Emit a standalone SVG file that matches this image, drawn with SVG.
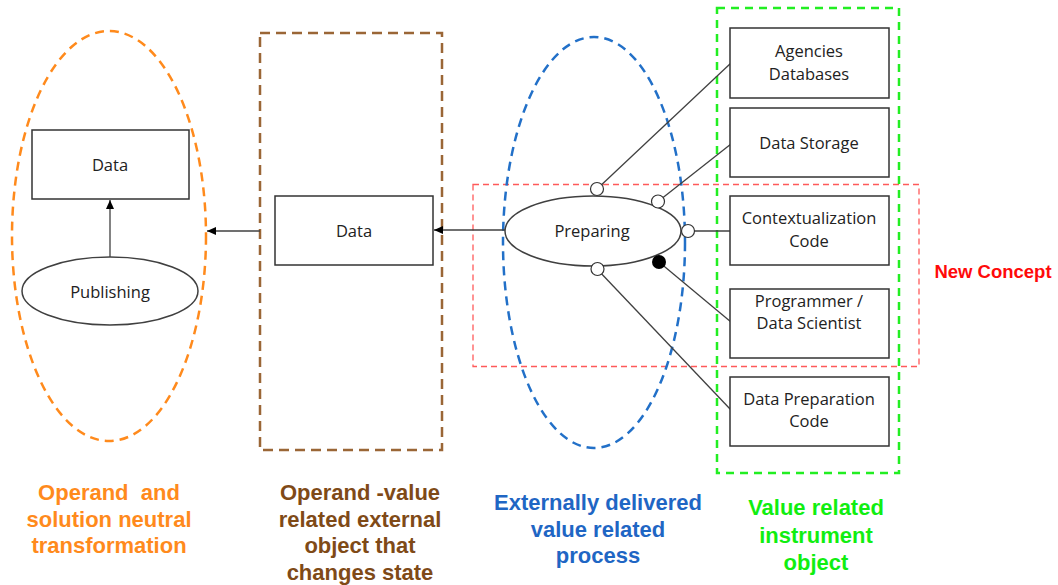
<svg xmlns="http://www.w3.org/2000/svg" width="1058" height="585" viewBox="0 0 1058 585">
  <style>
    .box { fill: #ffffff; stroke: #333333; stroke-width: 1.5; }
    .oval { fill: #ffffff; stroke: #404040; stroke-width: 1.5; }
    .lbl { font-family: "Open Sans", "Noto Sans", sans-serif; font-size: 16.5px; fill: #222222; text-anchor: middle; }
    .cap { font-family: "Liberation Sans", Arial, sans-serif; font-size: 22px; font-weight: bold; text-anchor: middle; }
    .link { stroke: #404040; stroke-width: 1.3; fill: none; }
    .port { fill: #ffffff; stroke: #333333; stroke-width: 1.2; }
  </style>
  <defs>
    <marker id="arrow" markerUnits="userSpaceOnUse" markerWidth="10" markerHeight="8" refX="9" refY="4" orient="auto">
      <path d="M0,0 L9,4 L0,8 Z" fill="#000000"/>
    </marker>
  </defs>
  <rect width="1058" height="585" fill="#ffffff"/>

  <!-- grouping regions -->
  <g id="regions" fill="none">
    <ellipse id="region-transformation" cx="109" cy="236" rx="97" ry="205" stroke="#FF8A1C" stroke-width="2.5" stroke-dasharray="9 6"/>
    <rect id="region-operand" x="260" y="33" width="182" height="417" stroke="#9A6636" stroke-width="2.5" stroke-dasharray="10 6"/>
    <rect id="region-new-concept" x="473" y="184.5" width="446" height="182" stroke="#FF5A5A" stroke-width="1.3" stroke-dasharray="6 4"/>
    <ellipse id="region-process" cx="594" cy="242.5" rx="91" ry="205.5" stroke="#2270C8" stroke-width="2.5" stroke-dasharray="9 6"/>
    <rect id="region-instrument" x="717" y="8" width="182" height="465" stroke="#22EE22" stroke-width="2.5" stroke-dasharray="8 6"/>
  </g>

  <!-- connectors -->
  <g id="connectors">
    <line class="link" x1="110" y1="257" x2="110" y2="200" marker-end="url(#arrow)"/>
    <line class="link" x1="260" y1="231" x2="207" y2="231" marker-end="url(#arrow)"/>
    <line class="link" x1="505" y1="230" x2="434" y2="230" marker-end="url(#arrow)"/>
    <line class="link" x1="597" y1="189" x2="731" y2="63"/>
    <line class="link" x1="658" y1="201.5" x2="731" y2="144"/>
    <line class="link" x1="688" y1="231" x2="731" y2="231"/>
    <line class="link" x1="659" y1="262" x2="731" y2="322"/>
    <line class="link" x1="597" y1="269" x2="731" y2="410"/>
  </g>

  <!-- nodes -->
  <g id="data-published">
    <rect class="box" x="32" y="130" width="157" height="69"/>
    <text class="lbl" x="110" y="171">Data</text>
  </g>
  <g id="publishing">
    <ellipse class="oval" cx="110" cy="291" rx="88" ry="34"/>
    <text class="lbl" x="110" y="298">Publishing</text>
  </g>
  <g id="data-state">
    <rect class="box" x="275" y="196" width="158" height="69"/>
    <text class="lbl" x="354" y="237">Data</text>
  </g>
  <g id="preparing">
    <ellipse class="oval" cx="593" cy="231" rx="88" ry="35"/>
    <text class="lbl" x="592" y="237">Preparing</text>
  </g>
  <g id="agencies-databases">
    <rect class="box" x="730" y="28" width="159" height="70"/>
    <text class="lbl" x="809" y="57">Agencies</text>
    <text class="lbl" x="809" y="80">Databases</text>
  </g>
  <g id="data-storage">
    <rect class="box" x="730" y="108" width="159" height="69"/>
    <text class="lbl" x="809" y="149">Data Storage</text>
  </g>
  <g id="contextualization-code">
    <rect class="box" x="730" y="196" width="159" height="69"/>
    <text class="lbl" x="809" y="224">Contextualization</text>
    <text class="lbl" x="809" y="247">Code</text>
  </g>
  <g id="programmer">
    <rect class="box" x="730" y="289" width="159" height="69"/>
    <text class="lbl" x="809" y="307">Programmer /</text>
    <text class="lbl" x="809" y="329">Data Scientist</text>
  </g>
  <g id="data-preparation-code">
    <rect class="box" x="730" y="377" width="159" height="69"/>
    <text class="lbl" x="809" y="405">Data Preparation</text>
    <text class="lbl" x="809" y="427">Code</text>
  </g>

  <!-- link ends on the Preparing process -->
  <g id="ports">
    <circle class="port" cx="597" cy="189" r="6.5"/>
    <circle class="port" cx="658" cy="201.5" r="6.5"/>
    <circle class="port" cx="688" cy="231" r="6.5"/>
    <circle cx="659" cy="262" r="7" fill="#000000"/>
    <circle class="port" cx="597.5" cy="269" r="6.5"/>
  </g>

  <!-- captions -->
  <g id="captions">
    <text class="cap" fill="#FF8A1C" x="109" y="500" xml:space="preserve">Operand  and</text>
    <text class="cap" fill="#FF8A1C" x="109" y="527">solution neutral</text>
    <text class="cap" fill="#FF8A1C" x="109" y="553">transformation</text>

    <text class="cap" fill="#7F4A17" x="360" y="500">Operand -value</text>
    <text class="cap" fill="#7F4A17" x="360" y="527">related external</text>
    <text class="cap" fill="#7F4A17" x="360" y="553">object that</text>
    <text class="cap" fill="#7F4A17" x="360" y="580">changes state</text>

    <text class="cap" fill="#1F66C4" x="598" y="510">Externally delivered</text>
    <text class="cap" fill="#1F66C4" x="598" y="537">value related</text>
    <text class="cap" fill="#1F66C4" x="598" y="563">process</text>

    <text class="cap" fill="#11EE11" x="816" y="515">Value related</text>
    <text class="cap" fill="#11EE11" x="816" y="543">instrument</text>
    <text class="cap" fill="#11EE11" x="816" y="570">object</text>

    <text class="cap" fill="#FF0A0A" x="993" y="278" style="font-size:18.5px">New Concept</text>
  </g>
</svg>
